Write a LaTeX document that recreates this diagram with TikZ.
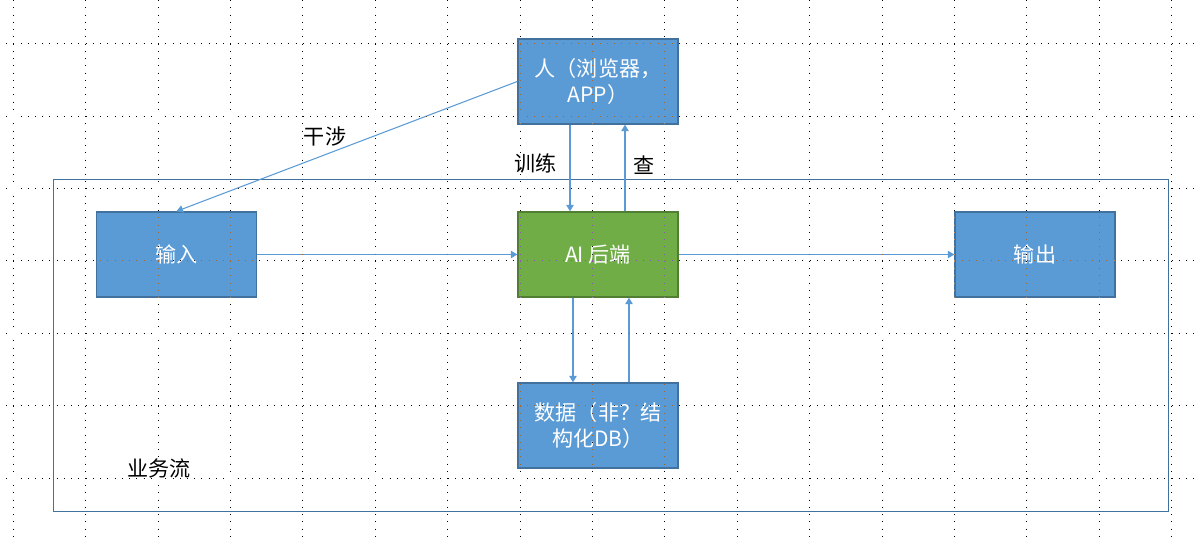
\documentclass[tikz,border=0pt]{standalone}
\usepackage{fontspec}
\setmainfont{Noto Sans CJK SC}
\usetikzlibrary{arrows.meta}
\definecolor{boxblue}{HTML}{5B9BD5}
\definecolor{boxedge}{HTML}{41719C}
\definecolor{boxgreen}{HTML}{70AD47}
\definecolor{greenedge}{HTML}{507E32}
\tikzset{
  box/.style={draw=boxedge, fill=boxblue, line width=0.8pt, text=white,
    minimum width=3.2cm, minimum height=1.7cm, align=center, inner sep=0pt},
  aibox/.style={box, draw=greenedge, fill=boxgreen},
  flowframe/.style={draw=boxedge, line width=0.6pt, minimum width=22.32cm,
    minimum height=6.66cm, inner sep=0pt},
  flow/.style={draw=boxblue, line width=0.6pt,
    -{Triangle[width=0.15cm,length=0.13cm]}},
  lbl/.style={text=black, inner sep=0pt},
}

\begin{document}
\begin{tikzpicture}[x=0.02cm, y=-0.02cm, font=\fontsize{12pt}{14.7pt}\selectfont]
  \useasboundingbox (0,0) rectangle (1194,543);
  \fill[white] (0,0) rectangle (1194,543);

  \node[flowframe] at (611,345.5) (flowarea) {};
  \node[lbl] at (159,468) (flowlbl) {业务流};

  \node[box] at (598,81.5) (ren) {人（浏览器，\\APP）};
  \node[aibox] at (598,254.5) (ai) {AI 后端};
  \node[box] at (598,425.5) (data) {数据（非？结\\构化DB）};
  \node[box] at (176.5,254.5) (input) {输入};
  \node[box] at (1035,254.5) (output) {输出};

  \draw[flow] (ren.west) -- (input.north);
  \node[lbl] at (325,137) (ganshe) {干涉};

  \draw[flow] ([xshift=-0.56cm]ren.south) -- ([xshift=-0.56cm]ai.north);
  \node[lbl] at (535.5,163) (xunlian) {训练};
  \draw[flow] ([xshift=0.54cm]ai.north) -- ([xshift=0.54cm]ren.south);
  \node[lbl] at (644,165) (cha) {查};

  \draw[flow] ([xshift=-0.5cm]ai.south) -- ([xshift=-0.5cm]data.north);
  \draw[flow] ([xshift=0.62cm]data.north) -- ([xshift=0.62cm]ai.south);

  \draw[flow] (input) -- (ai);
  \draw[flow] (ai) -- (output);

  % dotted grid, inverted over what lies below
  \begin{scope}[blend mode=difference, white, line width=0.02cm,
      dash pattern=on 0.02cm off 0.1248cm]
    \foreach \gx in {0,...,16}
      \draw ({13.3+72.4*\gx},0.26) -- ({13.3+72.4*\gx},543);
    \foreach \gy in {0,...,6}
      \draw (-1.2,{43.7+72.4*\gy}) -- (1194,{43.7+72.4*\gy});
  \end{scope}
\end{tikzpicture}
\end{document}
